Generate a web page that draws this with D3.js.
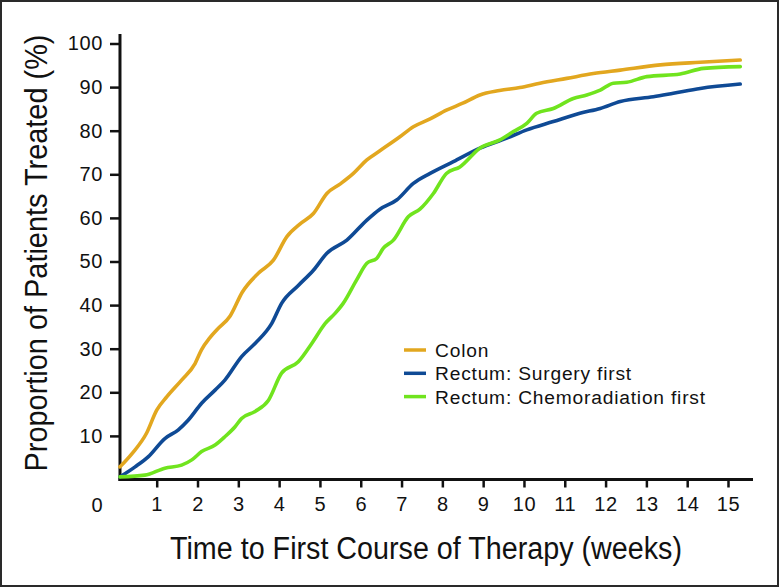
<!DOCTYPE html>
<html>
<head>
<meta charset="utf-8">
<script src="https://cdn.jsdelivr.net/npm/d3@7"></script>
<style>
  html, body { margin: 0; padding: 0; background: #fff; }
  svg { display: block; }
  text { font-family: "Liberation Sans", Arial, sans-serif; fill: #111; }
</style>
</head>
<body>
<svg id="chart" width="780" height="588"></svg>
<script>
// ---- Data ----
const seriesNames = ["Colon", "Rectum: Surgery first", "Rectum: Chemoradiation first"];
const seriesColors = ["#E2A71F", "#0F4A95", "#70E41E"];

const colonWeeks = [0.1,0.4,0.75,1.0,1.25,1.61,1.94,2.1,2.3,2.47,2.8,3.1,3.49,3.86,4.19,4.5,4.84,5.17,5.5,5.82,6.15,6.47,6.96,7.29,7.7,8.1,8.5,8.92,9.4,9.9,10.39,11.05,11.7,12.36,13.34,14.32,15.3];
const colonPct   = [2.9,6,10.6,15.9,19,22.8,26.6,29.8,32.5,34.3,37.5,43,47.3,50.3,55.7,58.5,61,65.6,67.8,70.2,73.3,75.4,78.6,80.9,82.7,84.7,86.3,88.2,89.2,89.9,90.9,92,93.1,93.9,95.1,95.7,96.2];

const surgeryWeeks = [0.1,0.47,0.79,1.2,1.53,1.77,2.1,2.43,2.67,3.08,3.41,3.82,4.06,4.47,4.84,5.17,5.66,6.15,6.47,6.88,7.29,7.7,8.27,8.92,9.58,10.07,10.72,11.37,11.87,12.36,13.17,13.66,14.32,15.3];
const surgeryPct   = [0.6,2.9,5.2,9.4,11.4,13.6,17.5,20.5,22.8,28.2,31.2,35.8,40.4,44.5,48,51.9,54.9,59.5,62,64.1,67.9,70.2,72.9,76,78.3,80.2,82.1,84,85.1,86.7,87.8,88.6,89.7,90.7];

const chemoWeeks = [0.1,0.71,1.2,1.61,1.86,2.1,2.43,2.67,2.92,3.08,3.41,3.74,4.06,4.47,4.8,5.13,5.37,5.57,5.9,6.15,6.39,6.55,6.8,7.17,7.45,7.78,8.1,8.43,8.92,9.41,9.74,10.07,10.31,10.72,11.21,11.54,11.87,12.19,12.52,13.01,13.83,14.4,15.3];
const chemoPct   = [0.6,1,2.6,3.3,4.5,6.4,7.9,9.8,12.1,14,15.6,18.2,24.4,27,31.2,35.8,38.1,40.4,45.8,49.6,50.7,53,54.9,60.3,62,65.6,70.2,71.7,76,77.9,79.8,81.7,84,85.1,87.4,88.2,89.3,90.9,91.1,92.4,93,94.3,94.7];

const xTicks = [1,2,3,4,5,6,7,8,9,10,11,12,13,14,15];
const yTicks = [10,20,30,40,50,60,70,80,90,100];
const xTitle = "Time to First Course of Therapy (weeks)";
const yTitle = "Proportion of Patients Treated (%)";

// ---- Drawing ----
const svg = d3.select("#chart");
const FONT = '"Liberation Sans", Arial, sans-serif';
const NARROW = '"Liberation Sans Narrow", "Liberation Sans", Arial, sans-serif';

// frame
svg.append("rect").attr("x", 1).attr("y", 1).attr("width", 777).attr("height", 585)
  .attr("fill", "none").attr("stroke", "#2a2a2a").attr("stroke-width", 2);

const x = d3.scaleLinear().domain([0, 15]).range([115.9, 728]);
const y = d3.scaleLinear().domain([0, 100]).range([479.5, 43.5]);
const axisX0 = x(0.1);

// y axis
const yAxis = d3.axisLeft(y).tickValues(yTicks).tickSize(10).tickPadding(7).tickFormat(d3.format("d"));
const gy = svg.append("g").attr("transform", `translate(${axisX0},0)`).call(yAxis);
gy.select(".domain").remove();
gy.selectAll(".tick line").attr("stroke", "#111").attr("stroke-width", 2.5);
gy.selectAll(".tick text").attr("font-size", 20).attr("letter-spacing", 0.6).attr("fill", "#111")
  .style("font-family", FONT);

// x axis
const xAxis = d3.axisBottom(x).tickValues(xTicks).tickSize(8).tickPadding(9).tickFormat(d3.format("d"));
const gx = svg.append("g").attr("transform", `translate(0,${y(0)})`).call(xAxis);
gx.select(".domain").remove();
gx.selectAll(".tick line").attr("stroke", "#111").attr("stroke-width", 2.5);
gx.selectAll(".tick text").attr("font-size", 20).attr("letter-spacing", 0.6).attr("fill", "#111")
  .style("font-family", FONT);

// axis lines
svg.append("line").attr("x1", axisX0).attr("x2", axisX0).attr("y1", 34).attr("y2", y(0) + 1.5)
  .attr("stroke", "#111").attr("stroke-width", 3);
svg.append("line").attr("x1", axisX0 - 1.5).attr("x2", 753).attr("y1", y(0)).attr("y2", y(0))
  .attr("stroke", "#111").attr("stroke-width", 3);

// origin label
svg.append("text").attr("x", 97).attr("y", 511.5).attr("text-anchor", "middle")
  .attr("font-size", 20).text("0");

// lines
const line = d3.line().x(d => x(d[0])).y(d => y(d[1])).curve(d3.curveMonotoneX);
const series = [
  d3.zip(colonWeeks, colonPct),
  d3.zip(surgeryWeeks, surgeryPct),
  d3.zip(chemoWeeks, chemoPct)
];
series.forEach((s, i) => {
  svg.append("path").datum(s).attr("d", line).attr("fill", "none")
    .attr("stroke", seriesColors[i]).attr("stroke-width", 3.6)
    .attr("stroke-linejoin", "round").attr("stroke-linecap", "round");
});

// legend
const legend = svg.append("g").attr("transform", "translate(404,350)");
seriesNames.forEach((name, i) => {
  const ly = i * 23.3;
  legend.append("line").attr("x1", 0).attr("x2", 22).attr("y1", ly).attr("y2", ly)
    .attr("stroke", seriesColors[i]).attr("stroke-width", 3.5);
  legend.append("text").attr("x", 31).attr("y", ly + 7).attr("font-size", 19.2)
    .attr("letter-spacing", 0.8).text(name);
});

// axis titles
svg.append("text").attr("x", 170).attr("y", 559).attr("font-size", 31)
  .style("font-family", NARROW)
  .attr("textLength", 512).attr("lengthAdjust", "spacingAndGlyphs").text(xTitle);

svg.append("text").attr("transform", "translate(47,471.5) rotate(-90)").attr("x", 0).attr("y", 0)
  .attr("font-size", 31)
  .style("font-family", NARROW)
  .attr("textLength", 437).attr("lengthAdjust", "spacingAndGlyphs").text(yTitle);
</script>
</body>
</html>
